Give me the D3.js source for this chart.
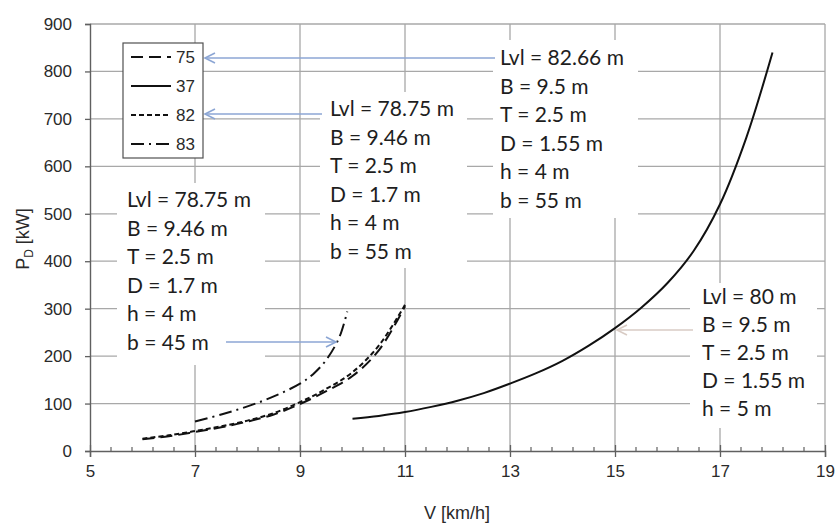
<!DOCTYPE html>
<html>
<head>
<meta charset="utf-8">
<script src="https://cdn.jsdelivr.net/npm/d3@7"></script>
<style>
  html, body { margin: 0; padding: 0; background: #fff; }
  svg { display: block; }
</style>
</head>
<body>
<svg id="chart" width="837" height="524"></svg>
<script>
// Propulsion power P_D against speed V for four vessel/waterway cases
const seriesNames = ["75", "37", "82", "83"];

const v75 = [6, 6.5, 7, 7.5, 8, 8.5, 9, 9.5, 10, 10.5, 11];
const p75 = [25, 31, 40, 50, 62, 77, 99, 126, 158, 212, 305];

const v37 = [10, 10.5, 11, 11.5, 12, 12.5, 13, 13.5, 14, 14.5, 15, 15.5, 16, 16.5, 17, 17.5, 18];
const p37 = [68, 74, 82, 93, 106, 122, 142, 164, 190, 222, 259, 302, 354, 422, 520, 660, 840];

const v82 = [6, 6.5, 7, 7.5, 8, 8.5, 9, 9.5, 10, 10.5, 11];
const p82 = [26, 33, 42, 52, 64, 80, 103, 131, 166, 222, 308];

const v83 = [7, 7.5, 8, 8.5, 9, 9.25, 9.5, 9.75, 9.9];
const p83 = [62, 77, 94, 115, 142, 162, 192, 240, 294];

const xTicks = [5, 7, 9, 11, 13, 15, 17, 19];
const yTicks = [0, 100, 200, 300, 400, 500, 600, 700, 800, 900];

// Annotation texts
const noteA = ["Lvl = 82.66 m", "B = 9.5 m", "T = 2.5 m", "D = 1.55 m", "h = 4 m", "b = 55 m"];
const noteB = ["Lvl = 78.75 m", "B = 9.46 m", "T = 2.5 m", "D = 1.7 m", "h = 4 m", "b = 55 m"];
const noteC = ["Lvl = 78.75 m", "B = 9.46 m", "T = 2.5 m", "D = 1.7 m", "h = 4 m", "b = 45 m"];
const noteD = ["Lvl = 80 m", "B = 9.5 m", "T = 2.5 m", "D = 1.55 m", "h = 5 m"];

const series = [
  { name: seriesNames[0], v: v75, p: p75, dash: "12,6" },
  { name: seriesNames[1], v: v37, p: p37, dash: null },
  { name: seriesNames[2], v: v82, p: p82, dash: "5,3" },
  { name: seriesNames[3], v: v83, p: p83, dash: "13,5,2,5" }
];

const svg = d3.select("#chart");
const x = d3.scaleLinear().domain([5, 19]).range([90, 825]);
const y = d3.scaleLinear().domain([0, 900]).range([451, 24]);

const gridColor = "#a8a8a8";
const axisColor = "#606060";
const tickFont = "'Liberation Sans', Arial, sans-serif";
const noteFont = "Lato, 'Open Sans', sans-serif";

// Gridlines
svg.append("g").selectAll("line").data(yTicks.filter(d => d > 0)).join("line")
  .attr("x1", x(5)).attr("x2", x(19))
  .attr("y1", d => y(d)).attr("y2", d => y(d))
  .attr("stroke", gridColor).attr("stroke-width", 1.3);
svg.append("g").selectAll("line").data(xTicks.filter(d => d > 5)).join("line")
  .attr("x1", d => x(d)).attr("x2", d => x(d))
  .attr("y1", y(0)).attr("y2", y(900))
  .attr("stroke", gridColor).attr("stroke-width", 1.3);

// White boxes behind the annotation blocks
const boxes = [
  { x0: 493, x1: 638, y0: 40, y1: 218 },
  { x0: 320, x1: 467, y0: 92, y1: 268 },
  { x0: 117, x1: 265, y0: 183, y1: 365 },
  { x0: 690, x1: 817, y0: 283, y1: 428 }
];
svg.append("g").selectAll("rect").data(boxes).join("rect")
  .attr("x", d => d.x0).attr("y", d => d.y0)
  .attr("width", d => d.x1 - d.x0).attr("height", d => d.y1 - d.y0)
  .attr("fill", "#fff");

// Axes
const yAxis = svg.append("g").attr("transform", `translate(${x(5)},0)`)
  .call(d3.axisLeft(y).tickValues(yTicks).tickSize(5).tickPadding(13).tickFormat(d3.format("d")));
const xAxis = svg.append("g").attr("transform", `translate(0,${y(0)})`)
  .call(d3.axisBottom(x).tickValues(xTicks).tickSize(6).tickPadding(8).tickFormat(d3.format("d")));
[yAxis, xAxis].forEach(g => {
  g.attr("font-size", null).attr("font-family", null);
  g.select(".domain").attr("stroke", axisColor).attr("stroke-width", 1.4);
  g.selectAll(".tick line").attr("stroke", axisColor).attr("stroke-width", 1.3);
  g.selectAll(".tick text").attr("fill", "#2a2a2a")
    .style("font-family", tickFont).style("font-size", "17px");
});
// Major x ticks cross the axis
xAxis.selectAll(".tick line").attr("y1", -6);
// Minor x ticks every 0.4
const minor = d3.range(0, 36).map(i => +(5 + i * 0.4).toFixed(1)).filter(v => !xTicks.includes(v));
svg.append("g").selectAll("line").data(minor).join("line")
  .attr("x1", d => x(d)).attr("x2", d => x(d))
  .attr("y1", y(0)).attr("y2", y(0) - 4)
  .attr("stroke", axisColor).attr("stroke-width", 1.2);

// Axis titles
svg.append("text").attr("x", 457).attr("y", 519).attr("text-anchor", "middle")
  .attr("fill", "#2a2a2a").style("font-family", tickFont).style("font-size", "18px")
  .text("V [km/h]");
const yt = svg.append("text").attr("transform", "translate(29,239) rotate(-90)")
  .attr("text-anchor", "middle").attr("fill", "#2a2a2a")
  .style("font-family", tickFont).style("font-size", "18px");
yt.append("tspan").text("P");
yt.append("tspan").attr("dy", 4).style("font-size", "12px").text("D");
yt.append("tspan").attr("dy", -4).text(" [kW]");

// Curves
const line = d3.line().x(d => x(d[0])).y(d => y(d[1])).curve(d3.curveCatmullRom.alpha(0.5));
svg.append("g").selectAll("path").data(series).join("path")
  .attr("d", s => line(s.v.map((v, i) => [v, s.p[i]])))
  .attr("fill", "none").attr("stroke", "#111").attr("stroke-width", 2)
  .attr("stroke-dasharray", s => s.dash);

// Annotation text blocks
function note(lines, x0, yFirst, step) {
  svg.append("g").selectAll("text").data(lines).join("text")
    .attr("x", x0).attr("y", (d, i) => yFirst + i * step)
    .attr("dy", "0.35em").attr("fill", "#1e1e1e")
    .style("font-family", noteFont).style("font-size", "21px")
    .text(d => d);
}
note(noteA, 500, 58, 28.5);
note(noteB, 330, 109, 28.5);
note(noteC, 127, 200, 28.5);
note(noteD, 702, 297, 27.8);

// Arrows from legend/notes to curves
function arrow(xFrom, xTo, yy, color) {
  const g = svg.append("g").attr("stroke", color).attr("fill", "none").attr("stroke-width", 1.6);
  g.append("line").attr("x1", xFrom).attr("x2", xTo).attr("y1", yy).attr("y2", yy);
  const dir = xTo > xFrom ? -1 : 1;
  g.append("path").attr("d", `M${xTo + dir * 10},${yy - 5}L${xTo},${yy}L${xTo + dir * 10},${yy + 5}`);
}
arrow(495, 205, 58, "#8ca6d4");
arrow(322, 205, 114, "#8ca6d4");
arrow(226, 336, 342, "#8ca6d4");
arrow(693, 617, 330, "#d8cbc4");

// Legend
const lg = svg.append("g");
lg.append("rect").attr("x", 123).attr("y", 43).attr("width", 80).attr("height", 115)
  .attr("fill", "#fff").attr("stroke", "#505050").attr("stroke-width", 1.2);
series.forEach((s, i) => {
  const yy = 57 + i * 29;
  lg.append("line").attr("x1", 131).attr("x2", 171).attr("y1", yy).attr("y2", yy)
    .attr("stroke", "#111").attr("stroke-width", 2).attr("stroke-dasharray", s.dash);
  lg.append("text").attr("x", 176).attr("y", yy).attr("dy", "0.35em")
    .attr("fill", "#2a2a2a").style("font-family", tickFont).style("font-size", "17px")
    .text(s.name);
});
</script>
</body>
</html>
